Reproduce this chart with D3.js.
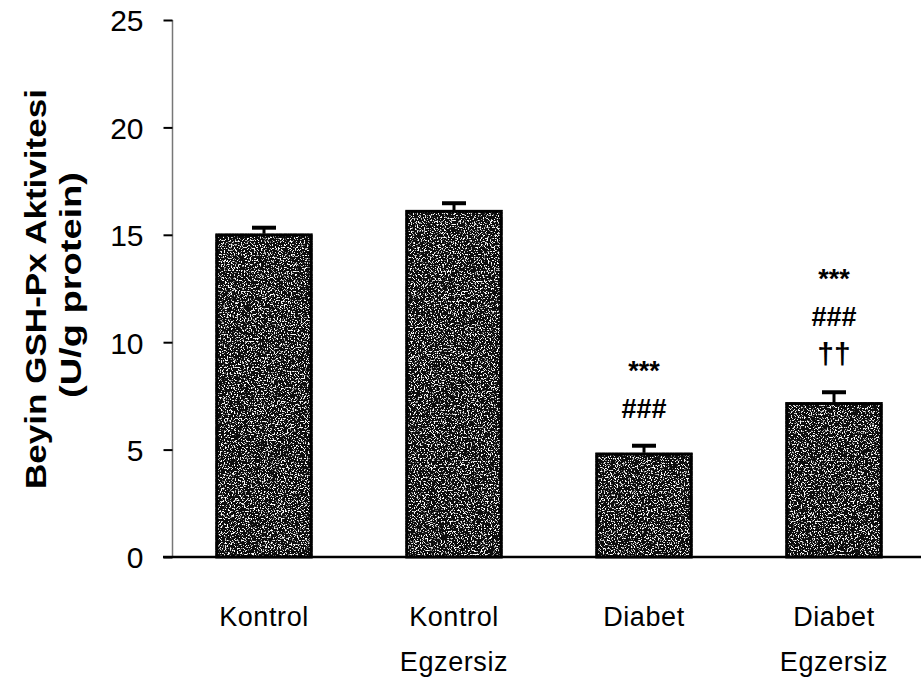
<!DOCTYPE html>
<html>
<head>
<meta charset="utf-8">
<script src="https://cdn.jsdelivr.net/npm/d3@7"></script>
<style>
  html, body { margin: 0; padding: 0; background: #fff; }
  svg { display: block; font-family: Arial, "Liberation Sans", sans-serif; }
</style>
</head>
<body>
<svg id="chart" width="921" height="687"></svg>
<script>
// Brain GSH-Px activity per group (mean ± SEM)
const groups = [["Kontrol"], ["Kontrol", "Egzersiz"], ["Diabet"], ["Diabet", "Egzersiz"]];
const means = [15.05, 16.15, 4.85, 7.2];
const sems = [0.28, 0.32, 0.33, 0.47];
// significance marks above each bar, listed from the bar upwards
const marks = [[], [], ["###", "***"], ["††", "###", "***"]];
const yTicks = [0, 5, 10, 15, 20, 25];
const yTitle = ["Beyin GSH-Px Aktivitesi", "(U/g protein)"];

const svg = d3.select("#chart");

const x = d3.scaleBand()
  .domain(d3.range(groups.length))
  .range([169, 929])
  .paddingInner(0.49)
  .paddingOuter(0.245);

const y = d3.scaleLinear().domain([0, 25]).range([557, 20]);

// stippled fill for the bars
const defs = svg.append("defs");
const f = defs.append("filter").attr("id", "speckle")
  .attr("x", 0).attr("y", 0).attr("width", 1).attr("height", 1);
f.append("feTurbulence").attr("type", "fractalNoise")
  .attr("baseFrequency", 0.7).attr("numOctaves", 2).attr("seed", 7).attr("result", "noise");
f.append("feColorMatrix").attr("in", "noise").attr("type", "matrix")
  .attr("values", "0 0 0 0 1  0 0 0 0 1  0 0 0 0 1  10 0 0 0 -5.6")
  .attr("result", "dots");
f.append("feComposite").attr("in", "dots").attr("in2", "SourceGraphic")
  .attr("operator", "in").attr("result", "clipped");
const fm = f.append("feMerge");
fm.append("feMergeNode").attr("in", "SourceGraphic");
fm.append("feMergeNode").attr("in", "clipped");

// bars
const bars = svg.append("g");
bars.selectAll("rect.fill")
  .data(means)
  .join("rect")
  .attr("class", "fill")
  .attr("x", (d, i) => x(i))
  .attr("y", d => y(d))
  .attr("width", x.bandwidth())
  .attr("height", d => y(0) - y(d))
  .attr("fill", "#0a0a0a")
  .attr("filter", "url(#speckle)");
bars.selectAll("rect.edge")
  .data(means)
  .join("rect")
  .attr("class", "edge")
  .attr("x", (d, i) => x(i) + 1.25)
  .attr("y", d => y(d) + 1.25)
  .attr("width", x.bandwidth() - 2.5)
  .attr("height", d => y(0) - y(d) - 1.25)
  .attr("fill", "none")
  .attr("stroke", "#000")
  .attr("stroke-width", 3);

// error bars (upper half only)
const err = svg.append("g").attr("stroke", "#000");
means.forEach((m, i) => {
  const cx = x(i) + x.bandwidth() / 2;
  err.append("line")
    .attr("x1", cx).attr("x2", cx)
    .attr("y1", y(m)).attr("y2", y(m + sems[i]))
    .attr("stroke-width", 3);
  err.append("line")
    .attr("x1", cx - 12).attr("x2", cx + 12)
    .attr("y1", y(m + sems[i])).attr("y2", y(m + sems[i]))
    .attr("stroke-width", 4);
});

// significance marks
const sig = svg.append("g")
  .attr("text-anchor", "middle")
  .attr("font-weight", "bold")
  .attr("fill", "#000");
marks.forEach((list, i) => {
  const cx = x(i) + x.bandwidth() / 2;
  const top = y(means[i] + sems[i]);
  list.forEach((s, k) => {
    sig.append("text")
      .attr("x", cx)
      .attr("y", top - 28 - k * 38)
      .attr("font-size", s === "††" ? 30 : 27)
      .text(s);
  });
});

// y axis
const yAxis = svg.append("g")
  .attr("transform", "translate(172.5,0)")
  .call(d3.axisLeft(y).tickValues(yTicks).tickSize(9).tickPadding(20).tickFormat(d3.format("d")));
yAxis.select(".domain").attr("stroke", "#777").attr("stroke-width", 1.5)
  .attr("d", `M0,${y(25)}V${y(0)}`);
yAxis.selectAll(".tick line").attr("stroke", "#000").attr("stroke-width", 2);
yAxis.selectAll(".tick text")
  .attr("font-size", 30)
  .attr("font-family", "Arial, 'Liberation Sans', sans-serif")
  .attr("fill", "#000")
  .attr("dy", "0.36em");

// x axis baseline
svg.append("line")
  .attr("x1", 163).attr("x2", 921)
  .attr("y1", y(0)).attr("y2", y(0))
  .attr("stroke", "#000").attr("stroke-width", 2.5);

// category labels
const xl = svg.append("g")
  .attr("font-size", 27)
  .attr("letter-spacing", 0.6)
  .attr("text-anchor", "middle")
  .attr("fill", "#000");
groups.forEach((lines, i) => {
  const cx = x(i) + x.bandwidth() / 2;
  lines.forEach((t, k) => {
    xl.append("text")
      .attr("x", cx)
      .attr("y", 626 + k * 45)
      .text(t);
  });
});

// y axis title
const yt = svg.append("g")
  .attr("font-size", 30)
  .attr("font-weight", "bold")
  .attr("text-anchor", "middle")
  .attr("fill", "#000");
yt.append("text")
  .attr("transform", "translate(46,289) rotate(-90)")
  .attr("textLength", 400)
  .attr("lengthAdjust", "spacingAndGlyphs")
  .text(yTitle[0]);
yt.append("text")
  .attr("transform", "translate(81,285) rotate(-90)")
  .attr("textLength", 226)
  .attr("lengthAdjust", "spacingAndGlyphs")
  .text(yTitle[1]);
</script>
</body>
</html>
